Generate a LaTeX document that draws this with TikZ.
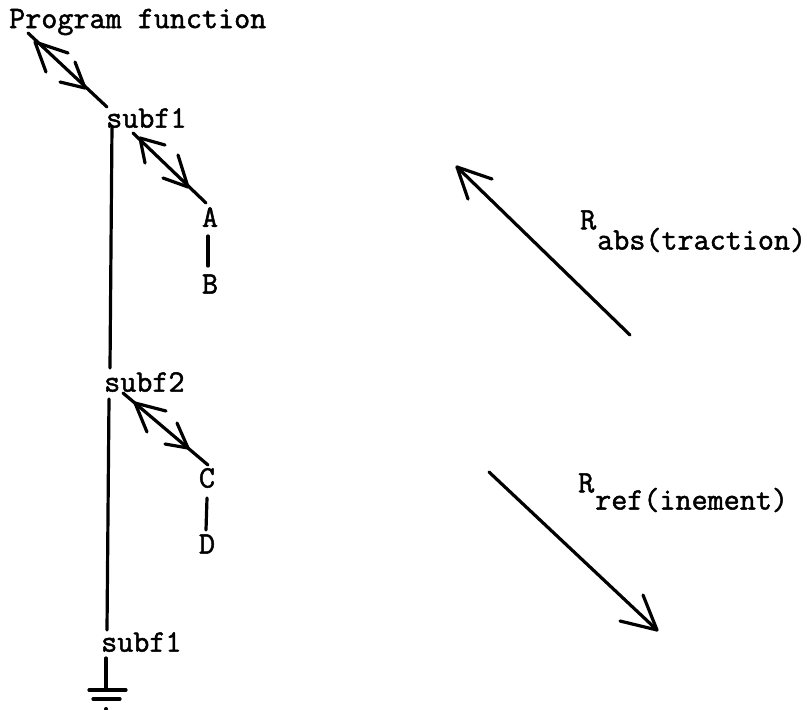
\documentclass[tikz,border=0pt]{standalone}
\usepackage{fontspec}
\newfontfamily\typew[FakeBold=1.6]{Latin Modern Mono}
\usetikzlibrary{arrows.meta,calc}
\tikzset{
 lbl/.style={inner sep=0pt,font=\fontsize{31.2pt}{33pt}\typew,text=black},
 conn/.style={line width=3.2pt,black,line cap=round,line join=round},
 bigbarb/.style={conn,-{Straight Barb[length=31pt,width=33pt,line width=3.2pt,round]}}
}
\begin{document}
\begin{tikzpicture}[x=1pt,y=-1pt]
\useasboundingbox (0,0) rectangle (807,710);
\node[lbl,anchor=west] (pf) at (9,22) {Program function};
\node[lbl,anchor=west] (s1) at (106,118) {subf1};
\node[lbl] (a) at (210,217) {A};
\node[lbl] (b) at (210,284) {B};
\node[lbl,anchor=west] (s2) at (104,382) {subf2};
\node[lbl] (c) at (207,478) {C};
\node[lbl] (d) at (207,544) {D};
\node[lbl,anchor=west] (s3) at (101,642) {subf1};
\coordinate (pfa) at (28,33);
\coordinate (s1a) at (107,107);
\coordinate (s1b) at (133,133);
\coordinate (aa) at (206,203);
\coordinate (s2b) at (123,393);
\coordinate (ca) at (208,465);
\coordinate (g) at (106,690);
\draw[conn] (pfa) -- (s1a);
\draw[conn] (68,53) -- (35,42) -- (46,72);
\draw[conn] (60,82) -- (85,88) -- (75,62);
\draw[conn] (s1b) -- (aa);
\draw[conn] (165,145) -- (140,138) -- (145,163);
\draw[conn] (163,178) -- (188,187) -- (178,155);
\draw[conn] (s2b) -- (ca);
\draw[conn] (166,411) -- (135,403) -- (147,432);
\draw[conn] (165,444) -- (188,448) -- (177,423);
\draw[conn] (112,126) -- (110,368);
\draw[conn] (109,399) -- (107,630);
\draw[conn] (106,658) -- (g);
\draw[conn] (89,690) -- (126,690);
\draw[conn] (93,699) -- (120,699);
\fill (106,709) circle (2pt);
\draw[conn] (208,236) -- (208,266);
\draw[conn] (207,498) -- (206,530);
\coordinate (r1) at (630,335);
\coordinate (r2) at (457,167);
\coordinate (r3) at (489,472);
\coordinate (r4) at (657,630);
\draw[conn] (r1) -- (r2);
\draw[conn] (492,179) -- (r2) -- (468,199);
\draw[conn] (r3) -- (r4);
\draw[conn] (620,621) -- (r4) -- (643,595);
\node[lbl,anchor=west] (t1) at (580,220) {R};
\node[lbl,anchor=west] (t1s) at (597,240) {abs(traction)};
\node[lbl,anchor=west] (t2) at (578,483) {R};
\node[lbl,anchor=west] (t2s) at (595,500) {ref(inement)};
\end{tikzpicture}
\end{document}
